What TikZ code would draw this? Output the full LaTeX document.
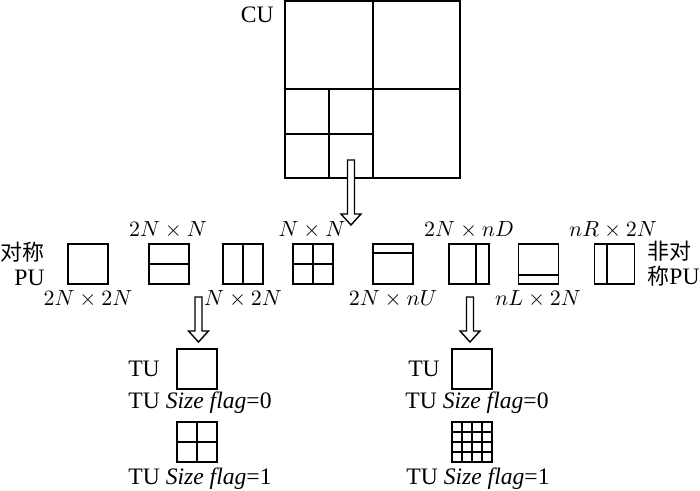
\documentclass[tikz,border=0pt]{standalone}
\usepackage{fontspec}
\setmainfont{Liberation Serif}
\newfontfamily\cjk{Noto Sans CJK SC}
\usetikzlibrary{calc}
\begin{document}
\begin{tikzpicture}[x=0.5pt,y=-0.5pt,
  box/.style={draw,line width=0.85pt,minimum width=20pt,minimum height=20pt,inner sep=0pt,outer sep=0pt},
  inl/.style={line width=1pt},
  cul/.style={line width=1pt},
  mlbl/.style={inner sep=0pt,font=\fontsize{10.5}{12}\selectfont},
  txt/.style={inner sep=0pt,font=\fontsize{11.8}{14}\selectfont},
  zh/.style={inner sep=0pt,font=\fontsize{11.8}{12.5}\selectfont},
  harrow/.pic={\draw[fill=white,line width=0.7pt,line join=miter]
     (-3.5,0) -- (3.5,0) -- (3.5,#1-11) -- (10,#1-11) -- (0,#1) -- (-10,#1-11) -- (-3.5,#1-11) -- cycle;}]
\useasboundingbox (0,0) rectangle (700,491);

% CU
\node[draw,cul,minimum width=87.5pt,minimum height=88.5pt,inner sep=0pt,outer sep=0pt] (cu) at (372.5,89.5) {};
\draw[cul] (cu.north) -- (cu.south);
\draw[cul] (cu.west) -- (cu.east);
\draw[cul] ($(cu.west)!0.25!(cu.east)$) -- ($(cu.south west)!0.25!(cu.south east)$);
\draw[cul] ($(cu.north west)!0.75!(cu.south west)$) -- ($(cu.north)!0.75!(cu.south)$);
\node[txt,anchor=east] (culbl) at (274,15) {CU};

% arrow from CU
\coordinate (a1) at (351,160);
\pic at (a1) {harrow=65};

% PU row
\node[box] (b1) at (88,264) {};
\node[box] (b2) at (169,264) {};
\node[box] (b3) at (243,264) {};
\node[box] (b4) at (313,264) {};
\node[box] (b5) at (393,264) {};
\node[box] (b6) at (469,264) {};
\node[box] (b7) at (538.5,264) {};
\node[box] (b8) at (614.5,264) {};
\draw[inl] (b2.west) -- (b2.east);
\draw[inl] (b3.north) -- (b3.south);
\draw[inl] (b4.north) -- (b4.south) (b4.west) -- (b4.east);
\draw[inl] ($(b5.north west)!0.23!(b5.south west)$) -- ($(b5.north east)!0.23!(b5.south east)$);
\draw[inl] ($(b6.north west)!0.68!(b6.north east)$) -- ($(b6.south west)!0.68!(b6.south east)$);
\draw[inl] ($(b7.north west)!0.77!(b7.south west)$) -- ($(b7.north east)!0.77!(b7.south east)$);
\draw[inl] ($(b8.north west)!0.3!(b8.north east)$) -- ($(b8.south west)!0.3!(b8.south east)$);

% labels
\node[mlbl] (l1) at (88,299) {$2N\times 2N$};
\node[mlbl] (l2) at (168,230) {$2N\times N$};
\node[mlbl] (l3) at (243,299) {$N\times 2N$};
\node[mlbl] (l4) at (312,230) {$N\times N$};
\node[mlbl] (l5) at (393,299) {$2N\times nU$};
\node[mlbl] (l6) at (469,230) {$2N\times nD$};
\node[mlbl] (l7) at (538,299) {$nL\times 2N$};
\node[mlbl] (l8) at (613,230) {$nR\times 2N$};

\node[zh,anchor=east,align=right] (sym) at (45,264) {{\cjk\fontsize{11}{12.5}\selectfont 对称}\\PU};
\node[zh,anchor=west,align=left] (asym) at (647,264) {{\cjk\fontsize{11}{12.5}\selectfont 非对}\\{\cjk\fontsize{11}{12.5}\selectfont 称}PU};

% arrows to TU
\coordinate (a2) at (198.5,297);
\coordinate (a3) at (470,297);
\pic at (a2) {harrow=45};
\pic at (a3) {harrow=45};

% TU left
\node[box] (t1) at (197,369) {};
\node[box] (t1b) at (197,442) {};
\draw[inl] (t1b.north) -- (t1b.south) (t1b.west) -- (t1b.east);
\node[txt] (tu1) at (144,369) {TU};
\node[txt] (f10) at (200,403) {TU \textit{Size flag}=0};
\node[txt] (f11) at (200,479) {TU \textit{Size flag}=1};

% TU right
\node[box] (t2) at (472,369) {};
\node[box] (t2b) at (472,442) {};
\foreach \f in {0.25,0.5,0.75}{
  \draw[line width=0.7pt] ($(t2b.north west)!\f!(t2b.north east)$) -- ($(t2b.south west)!\f!(t2b.south east)$);
  \draw[line width=0.7pt] ($(t2b.north west)!\f!(t2b.south west)$) -- ($(t2b.north east)!\f!(t2b.south east)$);
}
\node[txt] (tu2) at (424,369) {TU};
\node[txt] (f20) at (477,403) {TU \textit{Size flag}=0};
\node[txt] (f21) at (478,479) {TU \textit{Size flag}=1};
\end{tikzpicture}
\end{document}
